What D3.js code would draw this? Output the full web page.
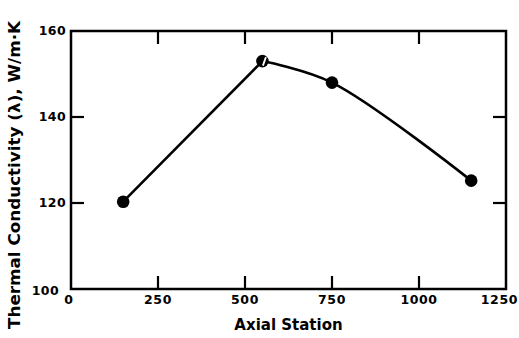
<!DOCTYPE html>
<html>
<head>
<meta charset="utf-8">
<script src="https://cdn.jsdelivr.net/npm/d3@7"></script>
<style>
  body { margin: 0; background: #fff; }
  text { font-family: "DejaVu Sans", sans-serif; font-weight: bold; fill: #000; }
</style>
</head>
<body>
<div id="chart"></div>
<script>
// data
const stations = [150, 550, 750, 1150];
const conductivity = [120.3, 153, 148, 125.2];
const markerKind = ["filled", "slashed", "filled", "filled"];
const xTicks = [0, 250, 500, 750, 1000, 1250];
const yTicks = [100, 120, 140, 160];

const width = 519, height = 338;
const margin = { top: 31, right: 13, bottom: 49, left: 71 };
const innerW = width - margin.left - margin.right;
const innerH = height - margin.top - margin.bottom;

const svg = d3.select("#chart")
  .append("svg")
  .attr("width", width)
  .attr("height", height);

const g = svg.append("g")
  .attr("transform", `translate(${margin.left}, ${margin.top})`);

const x = d3.scaleLinear().domain([0, 1250]).range([0, innerW]);
const y = d3.scaleLinear().domain([100, 160]).range([innerH, 0]);

// inward ticks, bottom + top for inner x ticks, left + right for inner y ticks
const tickLen = 13;
const innerX = xTicks.slice(1, -1);
const innerY = yTicks.slice(1, -1);

g.selectAll(".xtick-b")
  .data(innerX)
  .enter()
  .append("line")
  .attr("x1", d => x(d)).attr("x2", d => x(d))
  .attr("y1", innerH).attr("y2", innerH - tickLen);
g.selectAll(".xtick-t")
  .data(innerX)
  .enter()
  .append("line")
  .attr("x1", d => x(d)).attr("x2", d => x(d))
  .attr("y1", 0).attr("y2", tickLen);
g.selectAll(".ytick-l")
  .data(innerY)
  .enter()
  .append("line")
  .attr("x1", 0).attr("x2", tickLen)
  .attr("y1", d => y(d)).attr("y2", d => y(d));
g.selectAll(".ytick-r")
  .data(innerY)
  .enter()
  .append("line")
  .attr("x1", innerW).attr("x2", innerW - tickLen)
  .attr("y1", d => y(d)).attr("y2", d => y(d));
g.selectAll("line").attr("stroke", "#000").attr("stroke-width", 2.2);

// tick labels
g.selectAll(".xlab")
  .data(xTicks)
  .enter()
  .append("text")
  .attr("x", (d, i) => i === xTicks.length - 1 ? x(d) + 12 : x(d) - (i === 0 ? 2 : 0))
  .attr("y", innerH + 15)
  .attr("text-anchor", (d, i) => i === xTicks.length - 1 ? "end" : "middle")
  .style("font-size", "12.5px")
  .style("letter-spacing", "0.6px")
  .text(d => d);

g.selectAll(".ylab")
  .data(yTicks)
  .enter()
  .append("text")
  .attr("x", d => d === 100 ? -12 : -5)
  .attr("y", d => y(d) + (d === 100 ? 2 : 0))
  .attr("dy", "0.35em")
  .attr("text-anchor", "end")
  .style("font-size", "12.5px")
  .style("letter-spacing", "0.4px")
  .text(d => d);

// frame
g.append("rect")
  .attr("width", innerW)
  .attr("height", innerH)
  .attr("fill", "none")
  .attr("stroke", "#000")
  .attr("stroke-width", 2.5);

// curve: straight rise to the peak, smooth fall after it
const points = stations.map((s, i) => ({ s: s, k: conductivity[i], kind: markerKind[i] }));
const line = d3.line().x(d => x(d.s)).y(d => y(d.k)).curve(d3.curveCatmullRom.alpha(0.5));
g.selectAll(".seg")
  .data([points.slice(0, 2), points.slice(1)])
  .enter()
  .append("path")
  .attr("fill", "none")
  .attr("stroke", "#000")
  .attr("stroke-width", 2.6)
  .attr("d", line);

// markers
const marks = g.selectAll(".pt")
  .data(points)
  .enter()
  .append("g")
  .attr("class", "pt")
  .attr("transform", d => `translate(${x(d.s)}, ${y(d.k)})`);
marks.append("circle")
  .attr("r", 6.3)
  .attr("fill", "#000");
marks.filter(d => d.kind === "slashed")
  .append("line")
  .attr("x1", 0.5).attr("y1", 4.5)
  .attr("x2", 3.5).attr("y2", -4)
  .attr("stroke", "#fff")
  .attr("stroke-width", 1.8);

// axis titles
svg.append("text")
  .attr("x", margin.left + x(625))
  .attr("y", 330)
  .attr("text-anchor", "middle")
  .style("font-size", "15px")
  .text("Axial Station");

svg.append("text")
  .attr("transform", "rotate(-90)")
  .attr("x", -175)
  .attr("y", 20)
  .attr("text-anchor", "middle")
  .attr("textLength", 308)
  .attr("lengthAdjust", "spacingAndGlyphs")
  .style("font-size", "15.5px")
  .text("Thermal Conductivity (λ), W/m·K");
</script>
</body>
</html>
